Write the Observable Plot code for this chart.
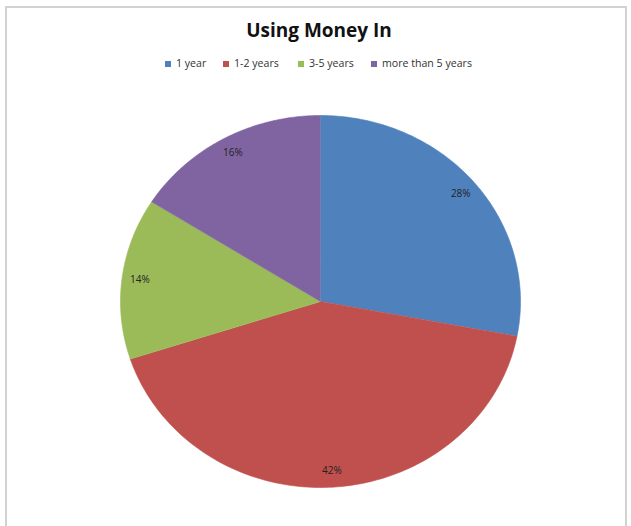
<!DOCTYPE html>
<html>
<head>
<meta charset="utf-8">
<script src="https://cdn.jsdelivr.net/npm/d3@7"></script>
<script src="https://cdn.jsdelivr.net/npm/@observablehq/plot@0.6"></script>
<style>
  body { margin: 0; background: #fff; font-family: "Open Sans", sans-serif; }
  #wrap { position: relative; width: 631px; height: 526px; overflow: hidden; }
  #frame { position: absolute; left: 5px; top: 6px; width: 618px; height: 600px; border: 2px solid #d2d2d2; }
  #title { position: absolute; left: 0; top: 17px; width: 638px; text-align: center; font-weight: bold; font-size: 19px; color: #111; }
  .leg { position: absolute; top: 55px; font-size: 10.6px; color: #333; line-height: 16px; white-space: nowrap; }
  .sw { display: inline-block; width: 6px; height: 6px; margin-right: 5px; vertical-align: 0px; }
  #chart { position: absolute; left: 0; top: 80px; }
</style>
</head>
<body>
<div id="wrap">
  <div id="frame"></div>
  <div id="title"></div>
  <div id="legend"></div>
  <div id="chart"></div>
</div>
<script>
const title = "Using Money In";
const categories = ["1 year", "1-2 years", "3-5 years", "more than 5 years"];
const values = [28, 42, 14, 16];
const labels = ["28%", "42%", "14%", "16%"];
const colors = ["#4F81BD", "#C0504D", "#9BBB59", "#8064A2"];
const legendX = [165, 223, 298, 371];

document.getElementById("title").textContent = title;
const legend = document.getElementById("legend");
categories.forEach((c, i) => {
  const d = document.createElement("div");
  d.className = "leg";
  d.style.left = legendX[i] + "px";
  const s = document.createElement("span");
  s.className = "sw";
  s.style.background = colors[i];
  d.appendChild(s);
  d.appendChild(document.createTextNode(c));
  legend.appendChild(d);
});

const arcs = d3.pie().sort(null).value(d => d)(values);

const pts = [];
arcs.forEach((a, i) => {
  pts.push({cat: categories[i], x: 0, y: 0});
  const n = 120;
  for (let k = 0; k <= n; k++) {
    const t = a.startAngle + (a.endAngle - a.startAngle) * k / n;
    pts.push({cat: categories[i], x: Math.sin(t), y: Math.cos(t)});
  }
});

const labelR = 0.91;
const labelData = arcs.map((a, i) => {
  const m = (a.startAngle + a.endAngle) / 2;
  return {text: labels[i], x: labelR * Math.sin(m), y: labelR * Math.cos(m)};
});

const plot = Plot.plot({
  width: 631,
  height: 446,
  margin: 0,
  x: {domain: [-1, 1], range: [120, 520], axis: null},
  y: {domain: [-1, 1], range: [407, 35], axis: null},
  color: {domain: categories, range: colors},
  style: {background: "transparent"},
  marks: [
    Plot.line(pts, {x: "x", y: "y", z: "cat", fill: "cat", stroke: "cat", strokeWidth: 0.6}),
    Plot.text(labelData, {x: "x", y: "y", text: "text", fontSize: 10, fill: "#222", fontFamily: "Open Sans"})
  ]
});
document.getElementById("chart").appendChild(plot);
</script>
</body>
</html>
